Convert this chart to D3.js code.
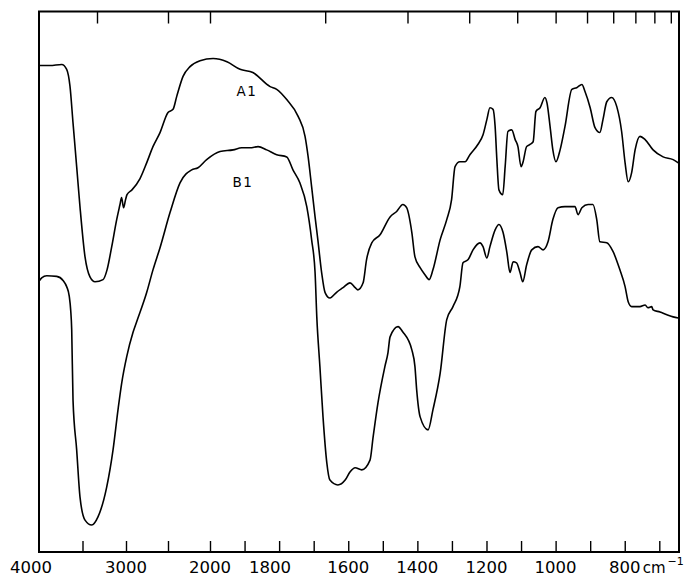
<!DOCTYPE html>
<html><head><meta charset="utf-8">
<script src="https://cdn.jsdelivr.net/npm/d3@7"></script>
<style>html,body{margin:0;padding:0;background:#fff;}svg{display:block;}</style>
</head><body>
<script>
// ---- data (wavenumber cm-1, transmittance %) ----
const seriesA1_wn = [4000,3874,3739,3682,3644,3609,3567,3529,3471,3414,3356,3264,3218,3164,3107,3069,3051,3028,3005,2988,2929,2833,2754,2679,2595,2500,2440,2396,2321,2238,2119,1991,1951,1913,1876,1826,1807,1778,1745,1725,1716,1706,1696,1688,1677,1667,1653,1633,1615,1595,1580,1572,1557,1547,1532,1508,1479,1460,1442,1431,1416,1407,1392,1378,1366,1355,1334,1315,1301,1291,1277,1262,1248,1225,1210,1199,1190,1181,1175,1170,1164,1153,1146,1138,1127,1117,1109,1100,1094,1084,1074,1065,1057,1045,1031,1025,1016,1008,999,987,973,953,939,924,915,900,886,872,863,852,838,823,809,799,790,780,770,756,741,718,689,660,645];
const seriesA1_T = [90.0,90.0,90.2,89.3,86.2,79.4,71.3,63.9,54.6,50.9,50.0,50.4,52.2,56.5,61.5,64.3,65.6,63.7,65.2,66.1,67.0,69.1,72.0,75.0,77.6,81.3,81.9,84.3,88.0,89.8,90.9,91.3,90.7,89.3,88.7,86.1,85.6,83.7,80.6,76.9,73.1,67.6,62.0,57.8,51.7,48.0,47.0,48.1,48.9,49.8,48.9,48.5,49.8,54.1,57.2,58.7,62.0,63.0,64.3,63.7,59.1,54.6,52.6,51.3,50.4,52.2,57.8,61.5,65.2,71.3,72.2,72.2,73.5,75.4,77.2,80.0,82.2,81.9,78.7,72.6,67.0,66.1,71.3,77.8,78.1,76.3,75.0,71.3,72.2,75.0,75.4,75.9,81.5,82.2,84.1,83.1,78.7,74.4,72.2,74.4,78.7,85.6,85.9,86.5,85.2,82.2,78.5,77.6,80.0,83.3,84.1,82.4,77.8,72.0,68.5,70.2,74.4,76.9,76.3,74.4,73.1,72.6,72.0];

const seriesB1_wn = [4000,3969,3911,3797,3721,3682,3652,3636,3624,3609,3567,3529,3471,3394,3322,3222,3149,3092,3049,2992,2917,2873,2754,2679,2595,2476,2357,2218,2143,2040,1971,1933,1908,1884,1861,1836,1807,1778,1760,1740,1720,1706,1696,1691,1682,1673,1662,1653,1630,1609,1595,1580,1561,1537,1528,1514,1494,1485,1479,1456,1442,1416,1407,1402,1392,1369,1355,1334,1315,1297,1277,1268,1253,1239,1219,1210,1199,1190,1175,1164,1152,1141,1132,1123,1113,1103,1095,1084,1069,1051,1036,1022,1008,993,973,944,935,924,906,892,881,872,852,834,814,799,790,780,756,741,733,722,718,698,678,660,645];
const seriesB1_T = [50.1,50.7,51.1,51.0,50.2,49.1,47.3,44.8,41.1,28.1,18.9,10.2,5.9,5.0,6.5,12.0,18.9,26.3,31.3,36.1,40.6,42.6,48.0,52.2,56.3,62.8,68.3,70.7,71.1,72.6,74.1,74.4,74.8,74.8,75.0,74.4,73.5,73.1,70.7,68.3,63.9,57.8,51.7,43.5,34.3,25.0,16.5,13.3,12.4,13.3,14.8,15.6,15.2,17.0,21.3,27.6,34.3,36.9,39.8,41.7,40.7,37.4,34.3,30.0,25.0,22.6,26.3,33.1,43.0,45.4,49.1,53.5,54.1,55.9,57.2,56.5,54.4,56.5,59.6,60.6,59.1,55.4,51.7,53.7,53.5,51.7,50.0,53.1,55.9,56.5,55.9,57.4,61.5,63.7,63.9,63.9,62.4,63.7,64.3,64.3,61.5,57.4,57.2,55.6,52.2,49.1,46.3,45.4,45.4,45.7,45.2,45.4,44.8,44.4,43.9,43.5,43.3];

const seriesNames = ["A1","B1"];
const bottomTicks = [3500,3000,2500,2000,1900,1800,1700,1600,1500,1400,1300,1200,1100,1000,900,800,700];
const bottomTickLabels = [4000,3000,2000,1800,1600,1400,1200,1000,800];
const topTicksMicron = [3,4,5,6,7,8,9,10,11,12,13,14,15];
const unitLabel = "cm";
const unitExp = "\u22121";

(function () {
// ---- layout ----
const W = 692, H = 581;
const pL = 39, pR = 679, pT = 11.5, pB = 552;

const svg = d3.select("body").append("svg").attr("width", W).attr("height", H);
svg.append("rect").attr("width", W).attr("height", H).attr("fill", "#fff");

// piecewise wavenumber scale (compressed above 2000 cm-1)
const x = d3.scaleLinear().domain([4000, 3000, 2000, 643]).range([pL, 126, 210, pR]);
const y = d3.scaleLinear().domain([0, 100]).range([pB, pT]);

// frame
svg.append("rect").attr("x", pL).attr("y", pT).attr("width", pR - pL).attr("height", pB - pT)
  .attr("fill", "none").attr("stroke", "#000").attr("stroke-width", 2);

// bottom axis ticks (inward)
const bottomAxis = d3.axisBottom(x).tickValues(bottomTicks).tickSize(-11).tickFormat("");
const gb = svg.append("g").attr("transform", `translate(0,${pB})`).call(bottomAxis);
gb.select(".domain").remove();
gb.selectAll(".tick line").attr("stroke", "#000").attr("stroke-width", 1.4);

// top axis ticks (micrometre positions), inward
const topAxis = d3.axisTop(x).tickValues(topTicksMicron.map(m => 10000 / m)).tickSize(-12).tickFormat("");
const gt = svg.append("g").attr("transform", `translate(0,${pT})`).call(topAxis);
gt.select(".domain").remove();
gt.selectAll(".tick line").attr("stroke", "#000").attr("stroke-width", 1.4);

// tick labels
const nudge = {4000: -8, 1800: -9};
svg.append("g").selectAll("text").data(bottomTickLabels).join("text")
  .attr("x", d => x(d) + (nudge[d] || 0))
  .attr("y", 573)
  .attr("text-anchor", "middle")
  .attr("font-family", "DejaVu Sans, sans-serif")
  .attr("font-size", 16.5)
  .attr("fill", "#000")
  .text(d => d);

const unit = svg.append("text")
  .attr("x", x(800) + 18).attr("y", 573)
  .attr("font-family", "DejaVu Sans, sans-serif").attr("font-size", 15).attr("fill", "#000");
unit.append("tspan").text(unitLabel);
unit.append("tspan").attr("dx", 2).attr("dy", -8).attr("font-size", 11).text(unitExp);

// curves
const line = d3.line().x(d => x(d[0])).y(d => y(d[1])).curve(d3.curveMonotoneX);
const A1 = seriesA1_wn.map((w, i) => [w, seriesA1_T[i]]);
const B1 = seriesB1_wn.map((w, i) => [w, seriesB1_T[i]]);
[A1, B1].forEach(s => {
  svg.append("path").datum(s).attr("d", line)
    .attr("fill", "none").attr("stroke", "#000").attr("stroke-width", 1.6)
    .attr("stroke-linejoin", "round");
});

// series labels
const labelPos = [[1893, 84.3], [1905, 67.6]];
seriesNames.forEach((n, i) => {
  svg.append("text").attr("x", x(labelPos[i][0])).attr("y", y(labelPos[i][1]))
    .attr("text-anchor", "middle")
    .attr("font-family", "DejaVu Sans, sans-serif").attr("font-size", 13.5)
    .attr("font-weight", 500)
    .attr("letter-spacing", 1.5).attr("fill", "#000").text(n);
});
})();
</script>
</body></html>
